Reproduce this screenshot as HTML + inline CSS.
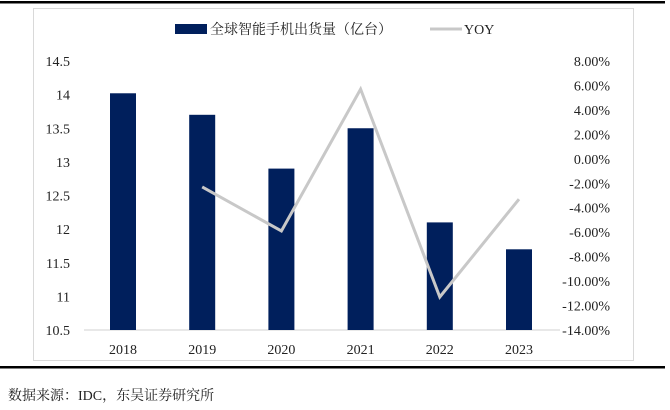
<!DOCTYPE html>
<html><head><meta charset="utf-8"><style>
body{margin:0;background:#fff;}
svg{display:block;font-family:"Liberation Serif","Noto Serif CJK SC",serif;}
</style></head><body>
<svg id="c" width="670" height="410">
<rect x="0" y="1" width="665" height="2.5" fill="#000"/>
<rect x="33.5" y="8.5" width="600" height="352" fill="none" stroke="#d9d9d9"/>
<rect x="0" y="366" width="665" height="2.5" fill="#000"/>
<text x="8" y="400" font-size="14" fill="#222">数据来源：IDC，东吴证券研究所</text>
<rect x="175" y="24" width="32" height="10" fill="#001f5c"/>
<text x="210" y="34" font-size="14" fill="#222">全球智能手机出货量（亿台）</text>
<line x1="430" y1="29" x2="462" y2="29" stroke="#c8c8c8" stroke-width="3"/>
<text x="464" y="34" font-size="14" fill="#222">YOY</text>
<line x1="84" y1="330" x2="560" y2="330" stroke="#d0d0d0"/>
<g id="g"></g>
</svg>
<script>
const years=["2018","2019","2020","2021","2022","2023"];
const shipments=[14.02,13.7,12.9,13.5,12.1,11.7];
const yoy=[null,-2.3,-5.9,5.7,-11.3,-3.3];
const leftTicks=[10.5,11,11.5,12,12.5,13,13.5,14,14.5];
const rightTicks=[-14,-12,-10,-8,-6,-4,-2,0,2,4,6,8];
const ns="http://www.w3.org/2000/svg";
const g=document.getElementById('g');
const yL=v=>330-(v-10.5)*(269/4);
const yR=v=>330-(v+14)*(269/22);
const xC=i=>123+i*79.2;
function mk(t,a,txt){const e=document.createElementNS(ns,t);for(const k in a)e.setAttribute(k,a[k]);if(txt!=null)e.textContent=txt;g.appendChild(e);return e;}
leftTicks.forEach(v=>{const e=mk('text',{x:70,y:yL(v)+5,'font-size':14,'text-anchor':'end',fill:'#222'},String(v));

});
rightTicks.forEach(v=>{const e=mk('text',{x:610,y:yR(v)+5,'font-size':14,'text-anchor':'end',fill:'#222'},v.toFixed(2)+'%');

});
years.forEach((y,i)=>{const e=mk('text',{x:xC(i),y:354,'font-size':14,'text-anchor':'middle',fill:'#222'},y);

});
shipments.forEach((v,i)=>{const e=mk('rect',{x:xC(i)-13,y:yL(v),width:26,height:330-yL(v),fill:'#001f5c'});

});
const pts=[];yoy.forEach((v,i)=>{if(v!=null)pts.push(xC(i)+','+yR(v));});
const l=mk('polyline',{points:pts.join(' '),fill:'none',stroke:'#c8c8c8','stroke-width':3,'stroke-linejoin':'miter'});


</script>
</body></html>
